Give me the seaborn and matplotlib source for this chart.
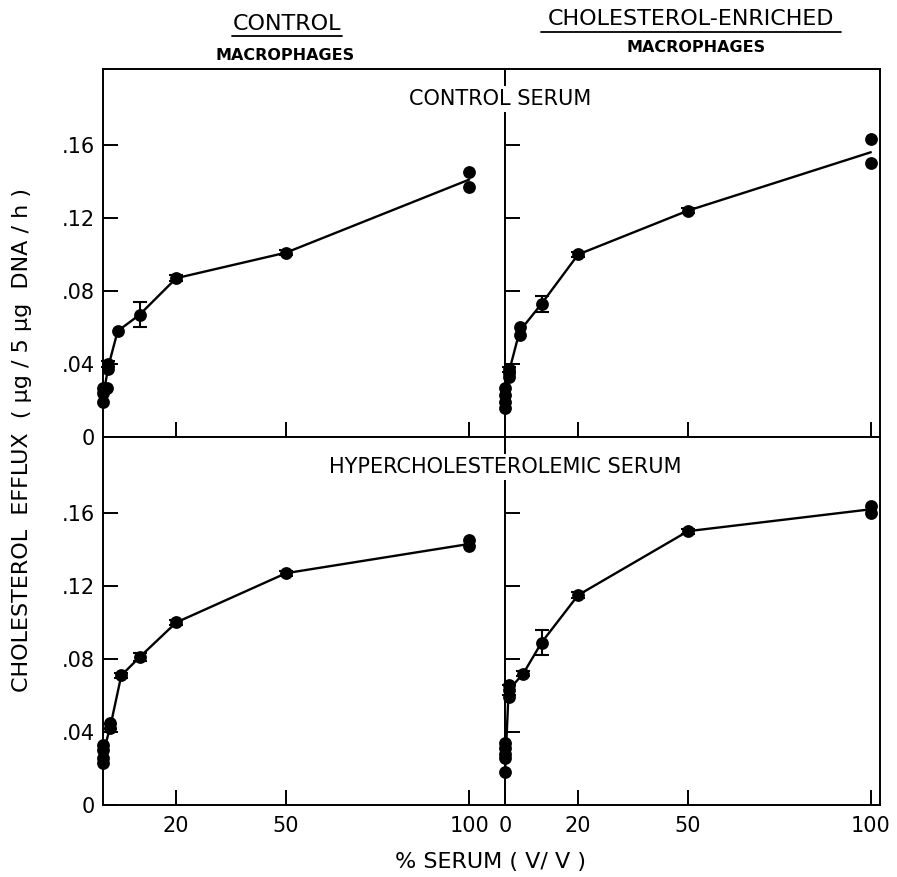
import pandas as pd
import seaborn as sns
import matplotlib.pyplot as plt
from matplotlib.lines import Line2D

# % serum (v/v) vs cholesterol efflux (ug / 5 ug DNA / h)
# control macrophages, control serum
cc_x = [0, 1, 0, 0, 1.5, 1.5, 4, 10, 20, 50, 100, 100]
cc_y = [.027, .027, .024, .019, .040, .037, .058, .067, .087, .101, .145, .137]
cc_line_x = [0, 1.5, 4, 10, 20, 50, 100]
cc_line_y = [.022, .039, .058, .067, .087, .101, .141]
cc_err_x = [1.5, 10, 20, 50]
cc_err_y = [.040, .067, .087, .101]
cc_err = [.0015, .007, .0018, .0012]

# cholesterol-enriched macrophages, control serum
ec_x = [0, 0, 0, 0, 1, 1, 1, 4, 4, 10, 20, 50, 100, 100]
ec_y = [.027, .023, .019, .016, .037, .035, .033, .060, .056, .073, .100, .124, .163, .150]
ec_line_x = [0, 1, 4, 10, 20, 50, 100]
ec_line_y = [.020, .035, .058, .073, .100, .124, .156]
ec_err_x = [1, 10, 20, 50]
ec_err_y = [.037, .073, .100, .124]
ec_err = [.0015, .0045, .0015, .0012]

# control macrophages, hypercholesterolemic serum
ch_x = [0, 0, 0, 0, 2, 2, 5, 10, 20, 50, 100, 100]
ch_y = [.033, .030, .026, .023, .045, .042, .071, .081, .100, .127, .145, .142]
ch_line_x = [0, 2, 5, 10, 20, 50, 100]
ch_line_y = [.028, .043, .071, .081, .100, .127, .143]
ch_err_x = [2, 5, 10, 20, 50]
ch_err_y = [.043, .071, .081, .100, .127]
ch_err = [.0015, .0015, .0022, .0015, .0013]

# cholesterol-enriched macrophages, hypercholesterolemic serum
eh_x = [0, 0, 0, 0, 0, 1, 1, 1, 5, 10, 20, 50, 100, 100]
eh_y = [.018, .026, .028, .031, .034, .066, .063, .059, .072, .089, .115, .150, .164, .160]
eh_line_x = [0, 1, 5, 10, 20, 50, 100]
eh_line_y = [.018, .063, .072, .089, .115, .150, .162]
eh_err_x = [1, 5, 10, 20, 50]
eh_err_y = [.063, .072, .089, .115, .150]
eh_err = [.0025, .0015, .007, .0018, .0013]

y_ticks = [0, .04, .08, .12, .16]
y_labels = ["0", ".04", ".08", ".12", ".16"]

sns.set_style("ticks")
plt.rcParams["font.family"] = ["DejaVu Sans"]
plt.rcParams.update({"text.color": "black", "axes.edgecolor": "black",
                     "xtick.color": "black", "ytick.color": "black",
                     "axes.labelcolor": "black"})

W, H = 897, 877
fig = plt.figure(figsize=(W / 100, H / 100), dpi=100)


def add_ax(x0, x1, ytop, ybot):
    return fig.add_axes([x0 / W, 1 - ybot / H, (x1 - x0) / W, (ybot - ytop) / H])


ax_tl = add_ax(103, 505, 69, 437)
ax_tr = add_ax(505, 880, 69, 437)
ax_bl = add_ax(103, 505, 437, 805)
ax_br = add_ax(505, 880, 437, 805)

panels = [
    (ax_tl, cc_x, cc_y, cc_line_x, cc_line_y, cc_err_x, cc_err_y, cc_err),
    (ax_tr, ec_x, ec_y, ec_line_x, ec_line_y, ec_err_x, ec_err_y, ec_err),
    (ax_bl, ch_x, ch_y, ch_line_x, ch_line_y, ch_err_x, ch_err_y, ch_err),
    (ax_br, eh_x, eh_y, eh_line_x, eh_line_y, eh_err_x, eh_err_y, eh_err),
]

for ax, px, py, lx, ly, ex, ey, ee in panels:
    line_df = pd.DataFrame({"serum": lx, "efflux": ly})
    pts_df = pd.DataFrame({"serum": px, "efflux": py})
    sns.lineplot(data=line_df, x="serum", y="efflux", ax=ax, color="black",
                 lw=1.7, estimator=None, sort=False, clip_on=False, zorder=2)
    sns.scatterplot(data=pts_df, x="serum", y="efflux", ax=ax, color="black",
                    s=85, edgecolor="black", linewidth=0, clip_on=False, zorder=3)
    ax.errorbar(ex, ey, yerr=ee, fmt="none", ecolor="black", elinewidth=1.5,
                capsize=5, capthick=1.5, clip_on=False, zorder=4)
    ax.set_ylim(0, 0.2016)
    ax.set_yticks(y_ticks)
    ax.set_xlabel("")
    ax.set_ylabel("")
    for sp in ax.spines.values():
        sp.set_visible(True)
        sp.set_linewidth(1.4)
        sp.set_color("black")
    ax.tick_params(direction="in", length=11, width=1.4, labelsize=15, pad=6,
                   color="black", labelcolor="black")
    ax.tick_params(axis="x", pad=8)

for ax in (ax_tl, ax_bl):
    ax.set_xlim(0, 109.8)
    ax.set_xticks([20, 50, 100])
    ax.set_yticklabels(y_labels)
for ax in (ax_tr, ax_br):
    ax.set_xlim(0, 102.5)
    ax.set_xticks([0, 20, 50, 100])
    ax.set_yticklabels([])
for ax in (ax_tl, ax_tr):
    ax.set_xticklabels([])
ax_bl.set_xticklabels(["20", "50", "100"])
ax_br.set_xticklabels(["0", "20", "50", "100"])

# column headings with underline
fig.text(287 / W, 1 - 24 / H, "CONTROL", ha="center", va="center", fontsize=16)
fig.add_artist(Line2D([232 / W, 342 / W], [1 - 36 / H, 1 - 36 / H], color="black", lw=1.3))
fig.text(285 / W, 1 - 55 / H, "MACROPHAGES", ha="center", va="center", fontsize=11.5, fontweight="bold")
fig.text(691 / W, 1 - 19 / H, "CHOLESTEROL-ENRICHED", ha="center", va="center", fontsize=16)
fig.add_artist(Line2D([541 / W, 841 / W], [1 - 32 / H, 1 - 32 / H], color="black", lw=1.3))
fig.text(696 / W, 1 - 48 / H, "MACROPHAGES", ha="center", va="center", fontsize=11.5, fontweight="bold")

# row headings straddling the divider
box = dict(boxstyle="square,pad=0.15", fc="white", ec="none")
fig.text(500 / W, 1 - 99 / H, "CONTROL SERUM", ha="center", va="center", fontsize=15, bbox=box, zorder=5)
fig.text(505 / W, 1 - 467 / H, "HYPERCHOLESTEROLEMIC SERUM", ha="center", va="center", fontsize=15, bbox=box, zorder=5)

fig.text(22 / W, 1 - 440 / H, "CHOLESTEROL  EFFLUX  ( \u00b5g / 5 \u00b5g  DNA / h )",
         rotation=90, ha="center", va="center", fontsize=16)
fig.text(490 / W, 1 - 862 / H, "% SERUM ( V/ V )", ha="center", va="center", fontsize=16)

fig.savefig("out.png", dpi=100)
